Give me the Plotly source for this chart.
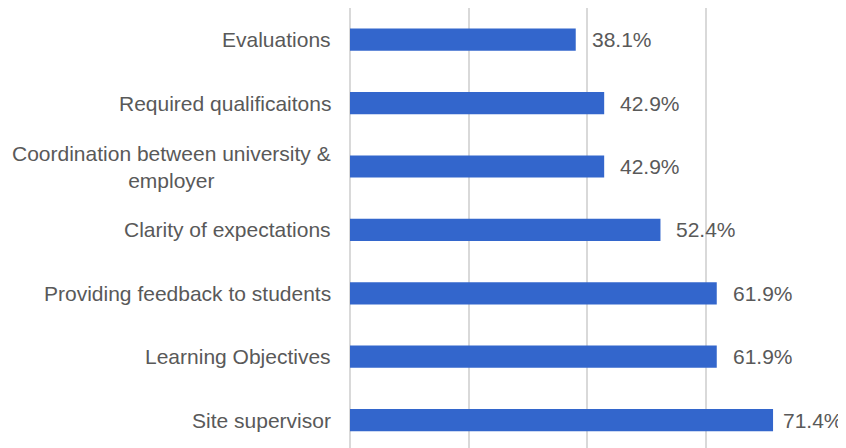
import plotly.graph_objects as go

categories = [
    "Site supervisor",
    "Learning Objectives",
    "Providing feedback to students",
    "Clarity of expectations",
    "Coordination between university &<br>employer",
    "Required qualificaitons",
    "Evaluations",
]
values = [71.4, 61.9, 61.9, 52.4, 42.9, 42.9, 38.1]

FONT = "Liberation Sans, Arial, sans-serif"
TEXT = "#595959"

fig = go.Figure()
fig.add_trace(go.Bar(
    x=values,
    y=categories,
    orientation="h",
    width=0.35,
    marker=dict(color="#3366cc", line=dict(width=0)),
    hoverinfo="skip",
))

# category labels (centred lines like the source chart)
for cat in categories:
    fig.add_annotation(
        x=0, xref="paper", y=cat, yref="y",
        text=cat, showarrow=False,
        xanchor="right", yanchor="middle", align="center",
        xshift=-17,
        font=dict(family=FONT, size=21, color=TEXT),
    )

# value labels (the longest one is pulled in a bit so it fits the page)
for cat, v in zip(categories, values):
    fig.add_annotation(
        x=v, y=cat, text=f"{v:.1f}%", showarrow=False,
        xanchor="left", yanchor="middle",
        xshift=8 if v > 70 else 14,
        font=dict(family=FONT, size=21, color=TEXT),
    )

fig.update_xaxes(
    range=[0, 80], dtick=20, showgrid=True,
    gridcolor="#d9d9d9", gridwidth=1.5,
    zeroline=True, zerolinecolor="#d9d9d9", zerolinewidth=1.5,
    showticklabels=False, ticks="",
)
fig.update_yaxes(
    range=[-0.44, 6.5], showticklabels=False, showgrid=False, ticks="",
)
# page body has an 8px margin, so the figure is sized to fit the window
fig.update_layout(
    width=838, height=440,
    margin=dict(l=342, r=22, t=0, b=0),
    plot_bgcolor="white", paper_bgcolor="white",
    showlegend=False,
    font=dict(family=FONT, size=21, color=TEXT),
)

fig.write_html("out.html")
